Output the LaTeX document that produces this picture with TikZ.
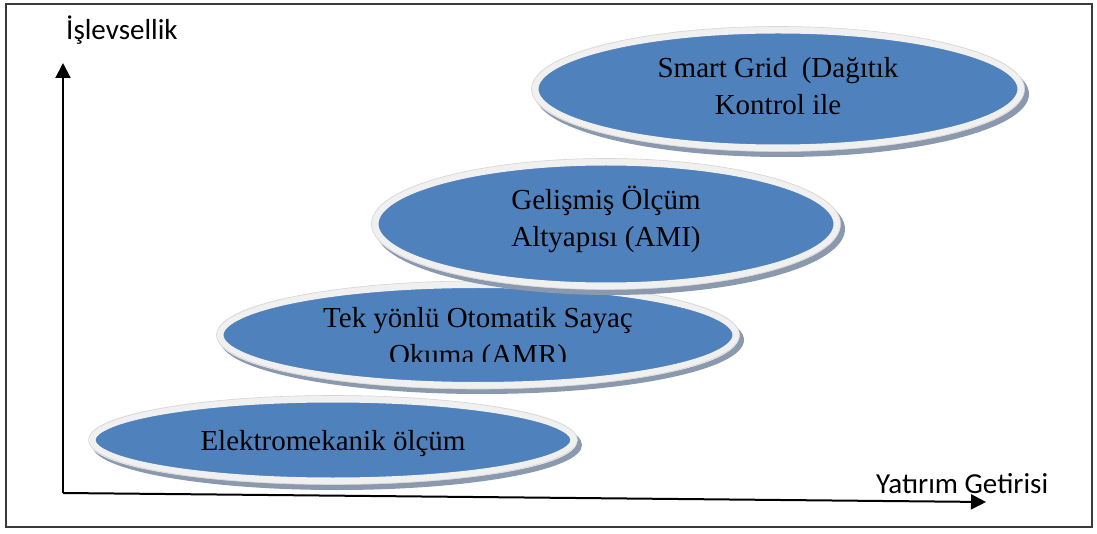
\documentclass[tikz,border=0pt]{standalone}
\usepackage{fontspec}
\setmainfont{Liberation Serif}
\newfontfamily\calib{Carlito}
\usetikzlibrary{shapes.geometric,arrows.meta}
\definecolor{blueFill}{HTML}{4F81BD}
\definecolor{rimC}{HTML}{F0F0F0}
\definecolor{rimEdge}{HTML}{D6D6D6}
\definecolor{shadowC}{HTML}{8A99AE}
\definecolor{frameC}{HTML}{3A3A3A}
\tikzset{
  blob/.style={ellipse, fill=blueFill, draw=rimC, line width=7pt, inner sep=0pt},
  blobshadow/.style={fill=shadowC},
  blobedge/.style={draw=rimEdge, line width=0.6pt},
  serlbl/.style={font=\fontsize{29pt}{37pt}\selectfont, text=black, inner sep=0pt, anchor=base},
  axlbl/.style={font=\calib\fontsize{29pt}{35pt}\selectfont, text=black, inner sep=0pt, anchor=base west},
  axis/.style={line width=2pt, black, -{Triangle[length=15pt,width=15pt]}},
  frame/.style={draw=frameC, line width=2pt}
}
\begin{document}
\begin{tikzpicture}[x=1pt,y=-1pt]
\useasboundingbox (0,0) rectangle (1097,534);
\draw[frame] (6,4) rectangle (1092,527);

% axes
\coordinate (origin) at (63,493);
\coordinate (ytip) at (63,63);
\coordinate (xtip) at (986,502);
\draw[axis] (origin) -- (ytip);
\draw[axis] (origin) -- (xtip);
\node[axlbl] (ylab) at (66,40) {İşlevsellik};
\node[axlbl] (xlab) at (876,493) {Yatırım Getirisi};

% ellipse 1
\coordinate (c1) at (333,440);
\fill[blobshadow] ([shift={(4,5)}]c1) ellipse [x radius=245pt, y radius=45pt];
\node[blob, minimum width=482pt, minimum height=82pt] (e1) at (c1) {};
\draw[blobedge] (c1) ellipse [x radius=244.5pt, y radius=44.5pt];
\node[serlbl] (t1) at (333,450) {Elektromekanik ölçüm};

% ellipse 2
\coordinate (c2) at (478,335);
\fill[blobshadow] ([shift={(4,5)}]c2) ellipse [x radius=262pt, y radius=54pt];
\node[blob, minimum width=516pt, minimum height=101pt] (e2) at (c2) {};
\draw[blobedge] (c2) ellipse [x radius=261.5pt, y radius=54pt];
\node[serlbl] (t2a) at (478,327) {Tek yönlü Otomatik Sayaç};
\begin{scope}
\clip (0,0) rectangle (1097,361);
\node[serlbl] (t2b) at (478,364) {Okuma (AMR)};
\end{scope}

% ellipse 3
\coordinate (c3) at (606,224);
\fill[blobshadow] ([shift={(4,5)}]c3) ellipse [x radius=235pt, y radius=66pt];
\node[blob, minimum width=462pt, minimum height=124pt] (e3) at (c3) {};
\draw[blobedge] (c3) ellipse [x radius=234.5pt, y radius=65.5pt];
\node[serlbl] (t3a) at (606,210) {Gelişmiş Ölçüm};
\node[serlbl] (t3b) at (606,247) {Altyapısı (AMI)};

% ellipse 4
\coordinate (c4) at (778,89);
\fill[blobshadow] ([shift={(4,5)}]c4) ellipse [x radius=247pt, y radius=63pt];
\node[blob, minimum width=486pt, minimum height=118pt] (e4) at (c4) {};
\draw[blobedge] (c4) ellipse [x radius=246.5pt, y radius=62.5pt];
\node[serlbl] (t4a) at (778,78) {Smart Grid\ \ (Dağıtık};
\node[serlbl] (t4b) at (778,115) {Kontrol ile};
\end{tikzpicture}
\end{document}
